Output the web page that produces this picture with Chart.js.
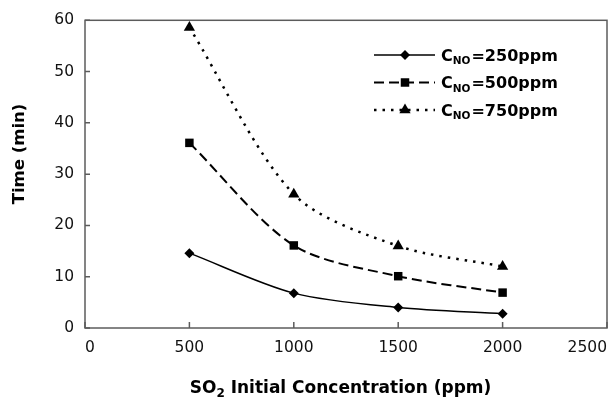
<!DOCTYPE html>
<html>
<head>
<meta charset="utf-8">
<script src="https://cdn.jsdelivr.net/npm/chart.js@4.4.1/dist/chart.umd.min.js"></script>
<style>
  html, body { margin: 0; padding: 0; background: #fff; }
  #wrap { width: 615px; height: 399px; }
</style>
</head>
<body>
<div id="wrap"><canvas id="myChart" width="615" height="399"></canvas></div>
<script>
'use strict';

// data
let so2Conc = [500, 1000, 1500, 2000];
let time250 = [14.6, 6.8, 4.0, 2.8];
let time500 = [36.1, 16.1, 10.1, 6.9];
let time750 = [58.6, 26.1, 16.0, 12.0];
let legendLabels = ['250ppm', '500ppm', '750ppm'];
let xTicks = [0, 500, 1000, 1500, 2000, 2500];
let yTicks = [0, 10, 20, 30, 40, 50, 60];

let fontFamily = '"DejaVu Sans", sans-serif';
let axisColor = '#5c5c5c';

function toPoints(values) {
  let pts = [];
  for (let i = 0; i < so2Conc.length; i++) {
    pts.push({x: so2Conc[i], y: values[i]});
  }
  return pts;
}

function makeSeries(label, values, style, dash, width, radius) {
  return {
    label: label,
    data: toPoints(values),
    borderColor: '#000',
    backgroundColor: '#000',
    borderWidth: width,
    borderDash: dash,
    pointStyle: style,
    pointRadius: radius,
    pointHoverRadius: radius,
    pointBorderWidth: 0,
    tension: 0.3,
    clip: false
  };
}

// marker for the hand-drawn legend
function drawMarker(ctx, style, x, y, r) {
  ctx.beginPath();
  if (style === 'rectRot') {
    ctx.moveTo(x, y - r); ctx.lineTo(x + r, y); ctx.lineTo(x, y + r); ctx.lineTo(x - r, y);
  } else if (style === 'rect') {
    let s = r * Math.SQRT1_2;
    ctx.rect(x - s, y - s, 2 * s, 2 * s);
  } else {
    let w = r * Math.sin(Math.PI / 3);
    ctx.moveTo(x, y - r); ctx.lineTo(x + w, y + r / 2); ctx.lineTo(x - w, y + r / 2);
  }
  ctx.closePath();
  ctx.fill();
}

let frame = {
  id: 'frame',
  beforeDatasetsDraw(chart) {
    let ctx = chart.ctx;
    let a = chart.chartArea;
    let xs = chart.scales.x;
    let ys = chart.scales.y;
    ctx.save();
    ctx.strokeStyle = axisColor;
    ctx.lineWidth = 1.5;
    ctx.strokeRect(a.left, a.top, a.right - a.left, a.bottom - a.top);
    // inward tick marks
    ctx.beginPath();
    for (let v of xTicks) {
      let px = xs.getPixelForValue(v);
      ctx.moveTo(px, a.bottom); ctx.lineTo(px, a.bottom - 6);
    }
    for (let v of yTicks) {
      let py = ys.getPixelForValue(v);
      ctx.moveTo(a.left, py); ctx.lineTo(a.left + 5, py);
    }
    ctx.stroke();
    ctx.restore();
  },
  afterDraw(chart) {
    let ctx = chart.ctx;
    ctx.save();
    ctx.fillStyle = '#000';

    // x title with subscript 2
    let big = 'bold 17px ' + fontFamily;
    let small = 'bold 12px ' + fontFamily;
    ctx.font = big;
    let wSO = ctx.measureText('SO').width;
    let rest = ' Initial Concentration (ppm)';
    let wRest = ctx.measureText(rest).width;
    ctx.font = small;
    let w2 = ctx.measureText('2').width;
    let x0 = 340.5 - (wSO + w2 + wRest) / 2;
    let base = 393;
    ctx.textBaseline = 'alphabetic';
    ctx.textAlign = 'left';
    ctx.font = big;
    ctx.fillText('SO', x0, base);
    ctx.font = small;
    ctx.fillText('2', x0 + wSO, base + 3.5);
    ctx.font = big;
    ctx.fillText(rest, x0 + wSO + w2, base);

    // y title
    ctx.save();
    ctx.translate(20, 154);
    ctx.rotate(-Math.PI / 2);
    ctx.textAlign = 'center';
    ctx.textBaseline = 'middle';
    ctx.font = 'bold 16.5px ' + fontFamily;
    ctx.fillText('Time (min)', 0, 0);
    ctx.restore();

    // legend
    let rows = [55, 82.5, 110];
    chart.data.datasets.forEach(function(ds, i) {
      let y = rows[i];
      ctx.save();
      ctx.strokeStyle = ds.borderColor;
      ctx.lineWidth = ds.borderWidth;
      ctx.setLineDash(ds.borderDash);
      ctx.beginPath();
      ctx.moveTo(374, y); ctx.lineTo(435, y);
      ctx.stroke();
      ctx.restore();
      drawMarker(ctx, ds.pointStyle, 405, y, ds.pointRadius);
      let tx = 441;
      ctx.textAlign = 'left';
      ctx.textBaseline = 'alphabetic';
      ctx.font = 'bold 16px ' + fontFamily;
      ctx.fillText('C', tx, y + 5.5);
      tx += ctx.measureText('C').width;
      ctx.font = 'bold 10.5px ' + fontFamily;
      ctx.fillText('NO', tx, y + 9);
      tx += ctx.measureText('NO').width + 1;
      ctx.font = 'bold 16px ' + fontFamily;
      ctx.fillText('=' + legendLabels[i], tx, y + 5.5);
    });
    ctx.restore();
  }
};

const config = {
  type: 'line',
  data: {
    datasets: [
      makeSeries('CNO=250ppm', time250, 'rectRot', [], 1.5, 5),
      makeSeries('CNO=500ppm', time500, 'rect', [10, 5], 2, 6),
      makeSeries('CNO=750ppm', time750, 'triangle', [2.5, 6], 2.5, 6.5)
    ]
  },
  options: {
    responsive: false,
    animation: false,
    events: [],
    layout: { padding: { left: 0, right: 8, top: 19, bottom: 0 } },
    plugins: { legend: { display: false }, tooltip: { enabled: false } },
    scales: {
      x: {
        type: 'linear',
        min: 0,
        max: 2500,
        grid: { display: false, drawTicks: false },
        border: { display: false },
        afterBuildTicks: function(scale) {
          scale.ticks = xTicks.map(function(v) { return {value: v}; });
        },
        ticks: {
          align: 'inner',
          padding: 11,
          color: '#111',
          font: { family: fontFamily, size: 15.5 },
          callback: function(value) { return String(value); }
        },
        afterFit: function(scale) {
          scale.height = 71;
          scale.paddingLeft = 0;
          scale.paddingRight = 0;
        }
      },
      y: {
        min: 0,
        max: 60,
        grid: { display: false, drawTicks: false },
        border: { display: false },
        afterBuildTicks: function(scale) {
          scale.ticks = yTicks.map(function(v) { return {value: v}; });
        },
        ticks: {
          padding: 11,
          color: '#111',
          font: { family: fontFamily, size: 15.5 },
          callback: function(value) { return String(value); }
        },
        afterFit: function(scale) {
          scale.width = 85;
        }
      }
    }
  },
  plugins: [frame]
};

const myChart = new Chart(document.getElementById('myChart'), config);
</script>
</body>
</html>
